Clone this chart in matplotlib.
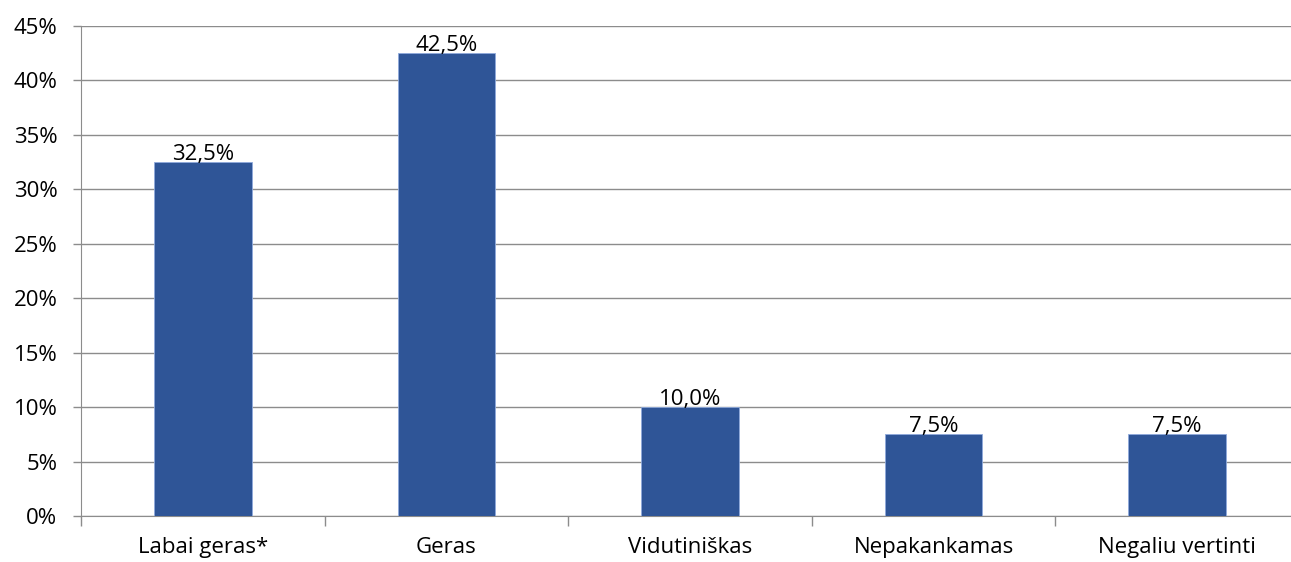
import matplotlib.pyplot as plt
from matplotlib.ticker import FixedLocator, FuncFormatter

# categories and shares (%)
categories = ['Labai geras*', 'Geras', 'Vidutiniškas', 'Nepakankamas', 'Negaliu vertinti']
values = [32.5, 42.5, 10.0, 7.5, 7.5]
yticks = [0, 5, 10, 15, 20, 25, 30, 35, 40, 45]

plt.rcParams['font.family'] = ['Open Sans', 'DejaVu Sans']

fig = plt.figure(figsize=(12.91, 5.62), dpi=100)
ax = fig.add_axes([81 / 1291, 46 / 562, 1218 / 1291, 490 / 562])

x = list(range(len(categories)))
ax.bar(x, values, width=0.4, color='#2F5597', edgecolor='#8FAADC', linewidth=0.6, zorder=3)

for xi, v in zip(x, values):
    ax.text(xi, v - 0.25, f'{v:.1f}%'.replace('.', ','), ha='center', va='bottom', fontsize=16, zorder=4)

ax.set_xlim(-0.5, len(categories) - 0.5)
ax.set_ylim(0, 45)
ax.set_yticks(yticks)
ax.yaxis.set_major_formatter(FuncFormatter(lambda v, p: f'{v:.0f}%'))
ax.yaxis.grid(True, color='#8C8C8C', linewidth=1.0, zorder=0)

# category labels centred, ticks at category boundaries
ax.xaxis.set_major_locator(FixedLocator([i - 0.5 for i in range(len(categories) + 1)]))
ax.xaxis.set_major_formatter(FuncFormatter(lambda v, p: ''))
ax.xaxis.set_minor_locator(FixedLocator(x))
ax.set_xticklabels(categories, minor=True)
ax.tick_params(axis='x', which='minor', length=0, pad=15, labelsize=16)
ax.tick_params(axis='x', which='major', length=7, color='#8C8C8C', width=1)
ax.tick_params(axis='y', length=6, color='#8C8C8C', width=1, labelsize=16, pad=11)

for s in ['top', 'right']:
    ax.spines[s].set_visible(False)
ax.spines['left'].set_color('#8C8C8C')
ax.spines['bottom'].set_color('#8C8C8C')

fig.savefig('out.png', dpi=100)
